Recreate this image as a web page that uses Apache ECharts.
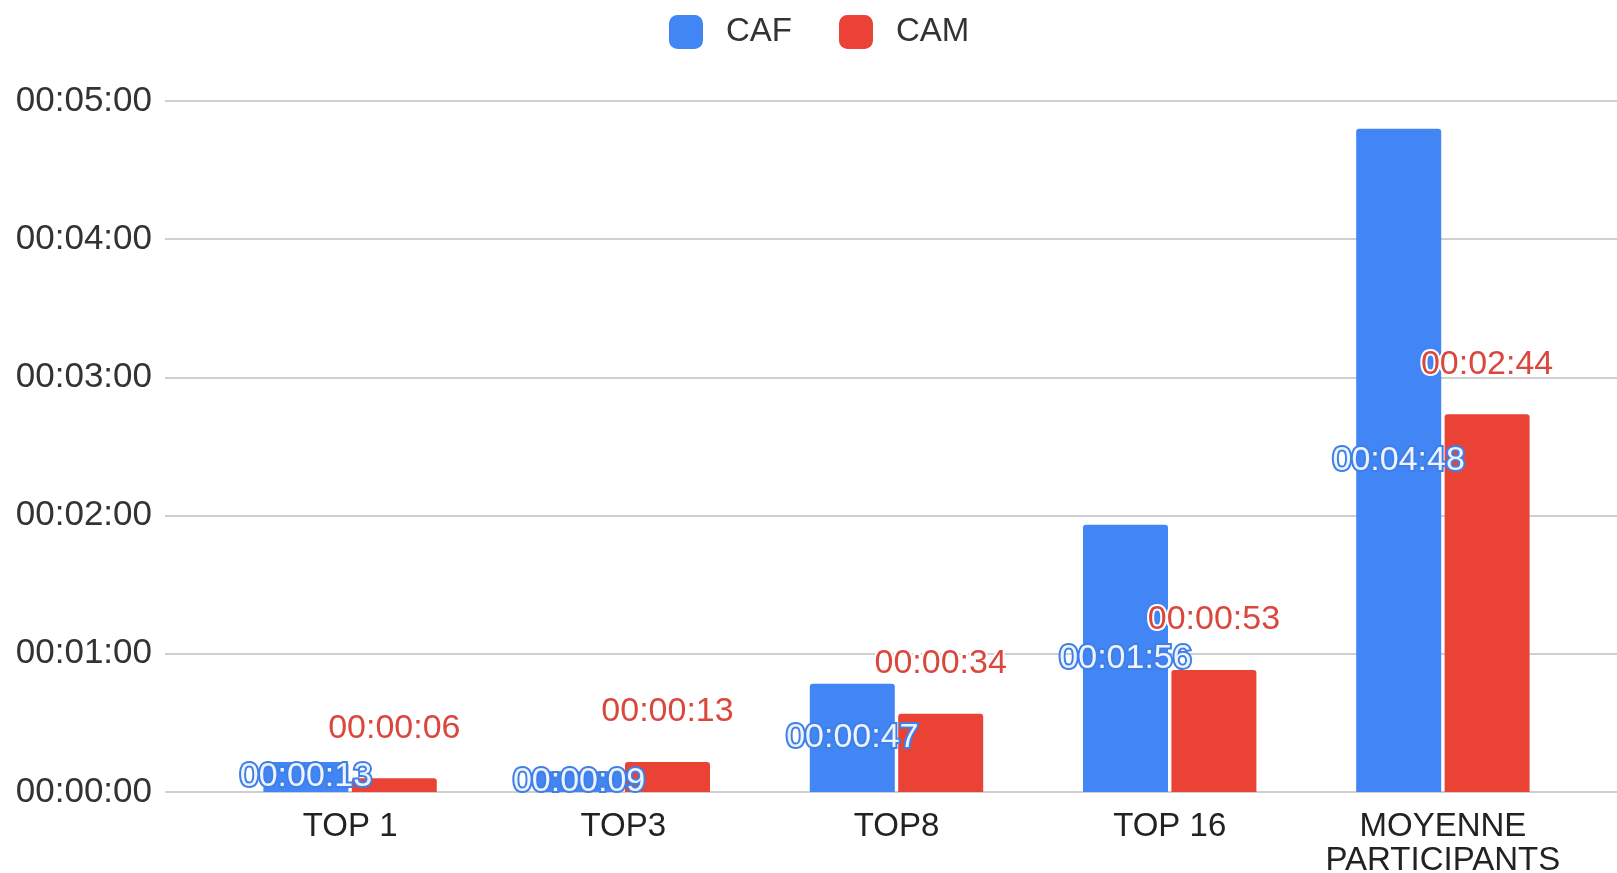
<!DOCTYPE html>
<html>
<head>
<meta charset="utf-8">
<script src="https://cdn.jsdelivr.net/npm/echarts@6/dist/echarts.min.js"></script>
<style>
html,body{margin:0;padding:0;background:#fff;}
#chart{width:1617px;height:873px;}
</style>
</head>
<body>
<div id="chart"></div>
<script>
// Data (durations in seconds)
const categories = ['TOP 1', 'TOP3', 'TOP8', 'TOP 16', 'MOYENNE\nPARTICIPANTS'];
const cafSeconds = [13, 9, 47, 116, 288];
const camSeconds = [6, 13, 34, 53, 164];
const seriesNames = ['CAF', 'CAM'];
const yMin = 0, yMax = 300, yStep = 60;

function fmt(s) {
  const h = Math.floor(s / 3600), m = Math.floor((s % 3600) / 60), sec = Math.round(s % 60);
  const p = n => String(n).padStart(2, '0');
  return p(h) + ':' + p(m) + ':' + p(sec);
}

const FONT = '"Liberation Sans", Arial, sans-serif';
const chart = echarts.init(document.getElementById('chart'));
chart.setOption({
  backgroundColor: '#fff',
  animation: false,
  textStyle: { fontFamily: FONT },
  legend: {
    data: seriesNames,
    left: 664, top: 10,
    itemWidth: 34, itemHeight: 34, itemGap: 47,
    icon: 'roundRect',
    textStyle: { fontSize: 33, color: '#333', fontFamily: FONT, padding: [0, 0, 0, 18] }
  },
  grid: [
    { left: 165, right: 0, top: 101, bottom: 81, containLabel: false, outerBoundsMode: 'none' },
    { left: 213.5, right: 37.5, top: 101, bottom: 81, containLabel: false, outerBoundsMode: 'none' }
  ],
  xAxis: [
    { gridIndex: 0, type: 'value', show: false, min: 0, max: 1 },
    {
      gridIndex: 1, type: 'category', data: categories,
      axisLine: { show: false }, axisTick: { show: false },
      axisLabel: { fontSize: 33, color: '#222', fontFamily: FONT, margin: 18, lineHeight: 34, interval: 0 }
    }
  ],
  yAxis: [
    {
      gridIndex: 0, type: 'value', min: yMin, max: yMax, interval: yStep,
      axisLine: { show: false }, axisTick: { show: false },
      splitLine: { lineStyle: { color: '#cfcfcf', width: 2 } },
      axisLabel: { fontSize: 35, color: '#333', fontFamily: FONT, margin: 13, formatter: v => fmt(v) }
    },
    {
      gridIndex: 1, type: 'value', min: yMin, max: yMax, interval: yStep, show: false,
      splitLine: { show: false }
    }
  ],
  series: [
    {
      name: seriesNames[0], type: 'bar', xAxisIndex: 1, yAxisIndex: 1,
      data: cafSeconds, barWidth: 85, barGap: '4%',
      itemStyle: { color: '#4285F4', borderRadius: [3, 3, 0, 0] },
      label: {
        show: true, position: 'inside', formatter: p => fmt(p.value),
        fontSize: 34, fontFamily: FONT, color: '#eef4ff',
        textBorderColor: '#3f7fe8', textBorderWidth: 4
      },
      z: 2
    },
    {
      name: seriesNames[1], type: 'bar', xAxisIndex: 1, yAxisIndex: 1,
      data: camSeconds, barWidth: 85,
      itemStyle: { color: '#EA4335', borderRadius: [3, 3, 0, 0] },
      label: {
        show: true, position: 'top', distance: 33, formatter: p => fmt(p.value),
        fontSize: 34, fontFamily: FONT, color: '#D9473D',
        textBorderColor: '#fff', textBorderWidth: 4
      },
      z: 2
    }
  ]
});
</script>
</body>
</html>
